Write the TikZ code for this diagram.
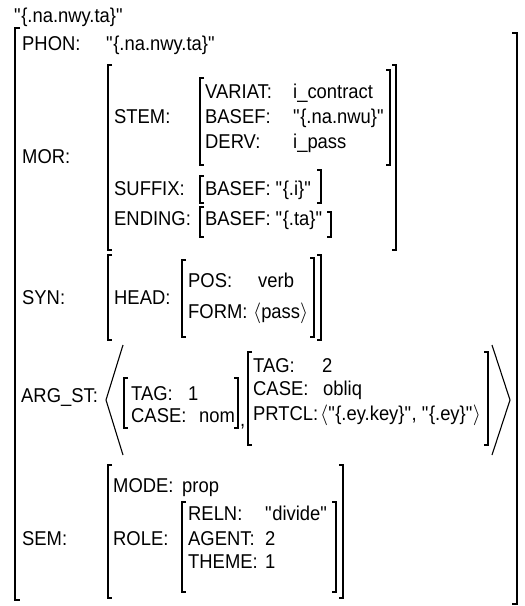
\documentclass[tikz,border=0pt]{standalone}
\usepackage{fontspec}
\setmainfont{Liberation Sans}[FakeStretch=0.92]
\usepackage{tikz}
\newcommand{\qq}{\textquotedbl}

\begin{document}
\begin{tikzpicture}[x=1pt,y=-1pt,
    every node/.style={anchor=base west,inner sep=0pt,font=\fontsize{20}{22}\selectfont},
    brk/.style={line width=1.1pt},
    outer/.style={line width=1.6pt}]
\useasboundingbox (0,0) rectangle (525,606);
\node (word) at (14,22) {\qq\{.na.nwy.ta\}\qq};
\draw[outer] (20,28) -| (15,600) -- ++(5,0);
\draw[outer] (512,33) -| (517,604) -- ++(-5,0);
% PHON
\node (phon) at (22,50) {PHON:};
\node (phonval) at (106,50) {\qq\{.na.nwy.ta\}\qq};
% MOR
\node (mor) at (22,163) {MOR:};
\draw[brk] (112,65) -| (108,250) -- ++(4,0);
\draw[brk] (392,65) -| (396,250) -- ++(-4,0);
\node (stem) at (114,123) {STEM:};
\draw[brk] (204,78) -| (200,165) -- ++(4,0);
\draw[brk] (386,70) -| (390,165) -- ++(-4,0);
\node (variat) at (205,98) {VARIAT:};
\node (variatval) at (293,98) {i\_contract};
\node (basef) at (205,123) {BASEF:};
\node (basefval) at (293,123) {\qq\{.na.nwu\}\qq};
\node (derv) at (205,148) {DERV:};
\node (dervval) at (293,148) {i\_pass};
\node (suffix) at (114,195) {SUFFIX:};
\draw[brk] (204,176) -| (200,203) -- ++(4,0);
\node (sufbasef) at (205,195) {BASEF: \qq\{.i\}\qq};
\draw[brk] (317,170) -| (321,203) -- ++(-4,0);
\node (ending) at (114,225) {ENDING:};
\draw[brk] (204,207) -| (200,237) -- ++(4,0);
\node (endbasef) at (205,225) {BASEF: \qq\{.ta\}\qq};
\draw[brk] (327,212) -| (331,237) -- ++(-4,0);
% SYN
\node (syn) at (22,304) {SYN:};
\draw[brk] (112,255) -| (108,340) -- ++(4,0);
\draw[brk] (317,255) -| (321,340) -- ++(-4,0);
\node (head) at (114,304) {HEAD:};
\draw[brk] (186,260) -| (182,337) -- ++(4,0);
\draw[brk] (310,258) -| (314,337) -- ++(-4,0);
\node (pos) at (188,287) {POS:};
\node (posval) at (258,287) {verb};
\node (form) at (188,318) {FORM:};
\node (formval) at (253,318) {$\bigl\langle$pass$\bigr\rangle$};
% ARG_ST
\node (argst) at (21,402) {ARG\_ST:};
\draw[brk] (123,345) -- (106,400) -- (123,455);
\draw[brk] (128,378) -| (124,428) -- ++(4,0);
\node (tag1) at (131,400) {TAG:};
\node (tag1val) at (188,400) {1};
\node (case1) at (131,422) {CASE:};
\node (case1val) at (199,422) {nom};
\draw[brk] (234,378) -| (238,428) -- ++(-4,0);
\node (comma) at (240,426) {,};
\draw[brk] (252,352) -| (248,445) -- ++(4,0);
\node (tag2) at (253,372) {TAG:};
\node (tag2val) at (322,372) {2};
\node (case2) at (253,395) {CASE:};
\node (case2val) at (323,395) {obliq};
\node (prtcl) at (253,420) {PRTCL:};
\node (prtclval) at (320,420) {$\bigl\langle$\qq\{.ey.key\}\qq, \qq\{.ey\}\qq$\bigr\rangle$};
\draw[brk] (484,352) -| (488,445) -- ++(-4,0);
\draw[brk] (492,345) -- (510,400) -- (492,455);
% SEM
\node (sem) at (22,545) {SEM:};
\draw[brk] (112,465) -| (108,598) -- ++(4,0);
\draw[brk] (339,465) -| (343,598) -- ++(-4,0);
\node (mode) at (113,492) {MODE:};
\node (modeval) at (182,492) {prop};
\node (role) at (113,545) {ROLE:};
\draw[brk] (186,502) -| (182,592) -- ++(4,0);
\draw[brk] (332,502) -| (336,592) -- ++(-4,0);
\node (reln) at (188,520) {RELN:};
\node (relnval) at (265,520) {\qq divide\qq};
\node (agent) at (188,545) {AGENT:};
\node (agentval) at (265,545) {2};
\node (theme) at (188,568) {THEME:};
\node (themeval) at (265,568) {1};
\end{tikzpicture}
\end{document}
